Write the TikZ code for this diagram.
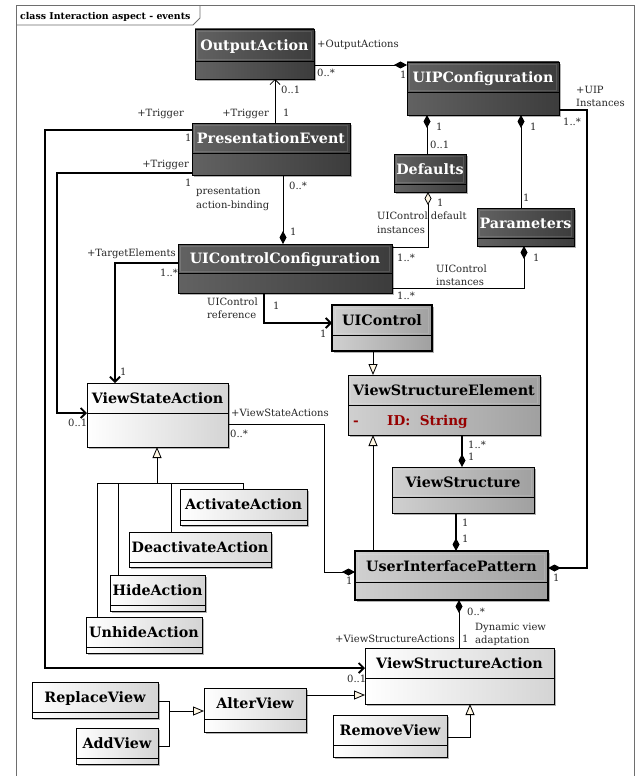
\documentclass[tikz,border=0pt]{standalone}
\usepackage{fontspec}
\setmainfont{DejaVu Serif}
\usetikzlibrary{arrows.meta,shadows}

\definecolor{darkL}{RGB}{98,98,98}
\definecolor{darkR}{RGB}{60,60,60}
\definecolor{greyL}{RGB}{208,208,208}
\definecolor{greyR}{RGB}{160,160,160}
\definecolor{whiteR}{RGB}{212,212,212}
\definecolor{cream}{RGB}{255,247,228}
\definecolor{attrred}{RGB}{150,0,0}
\definecolor{framegrey}{RGB}{110,110,110}

\tikzset{
  clsbox/.style={rectangle, draw=black, line width=0.9pt, inner sep=0pt, outer sep=0pt,
    drop shadow={shadow xshift=2pt, shadow yshift=-2pt, opacity=0.3, fill=black}},
  darkbox/.style={clsbox, left color=darkL, right color=darkR},
  greybox/.style={clsbox, left color=greyL, right color=greyR},
  boldgreybox/.style={greybox, line width=2pt},
  whitebox/.style={clsbox, left color=white, right color=whiteR},
  titlefont/.style={font=\bfseries\fontsize{14.3}{16}\selectfont, inner sep=0pt,
    text height=10.4pt, text depth=0pt},
  darktitle/.style={titlefont, text=white},
  lighttitle/.style={titlefont, text=black},
  glow/.style={draw=white, draw opacity=0.13, line width=0.8pt},
  lbl/.style={font=\fontsize{10}{12}\selectfont, inner sep=0pt, anchor=base west, text=black!85},
  lblr/.style={lbl, anchor=base east},
  assoc/.style={line width=0.8pt},
  strong/.style={line width=1.8pt},
  nav/.tip={Straight Barb[length=5pt, width=10pt]},
  dia/.tip={Diamond[length=13pt, width=7pt]},
  odia/.tip={Diamond[open, fill=cream, length=13pt, width=7pt]},
  gen/.tip={Triangle[open, fill=cream, length=11pt, width=9pt]},
}

% name, box style, title style, x1, y1, x2, y2, divider y, class name
\newcommand\umlclass[9]{%
  \node[#2, anchor=north west, minimum width={(#6)-(#4)}, minimum height={(#7)-(#5)}] (#1) at (#4,#5) {};
  \draw[line width=0.8pt] (#4,#8) -- (#6,#8);
  \node[#3] (#1-name) at ({(#4+#6)/2},{(#5+#8)/2}) {#9};
}
% faint inner highlight of a shaded header: x1, y1, x2, divider y
\newcommand\headerglow[4]{%
  \draw[glow] ({#1+2.5},{#4-2}) rectangle ({#3-2.5},{#2+2.5});
}

\begin{document}
\begin{tikzpicture}[x=1pt,y=-1pt]
\useasboundingbox (0,0) rectangle (641,776);
\fill[white] (0,0) rectangle (641,776);

% diagram frame and its name tab
\draw[framegrey, line width=1pt] (16,790) -- (16,6) -- (634,6) -- (634,790);
\draw[framegrey, line width=0.8pt] (16,25) -- (193,25) -- (200,18) -- (200,6);
\node[font=\bfseries\fontsize{9.4}{11}\selectfont, inner sep=0pt, anchor=base west] (frametitle) at (20,19.5) {class Interaction aspect - events};

% classes
\umlclass{oa}{darkbox}{darktitle}{195}{29}{314}{79}{61}{OutputAction}
\umlclass{uip}{darkbox}{darktitle}{407}{62}{559}{115}{92}{UIPConfiguration}
\umlclass{pe}{darkbox}{darktitle}{192}{123}{350}{175}{153}{PresentationEvent}
\umlclass{defs}{darkbox}{darktitle}{394}{154}{466}{192}{184}{Defaults}
\umlclass{params}{darkbox}{darktitle}{477}{208}{574}{246}{238}{Parameters}
\umlclass{uicc}{darkbox}{darktitle}{178}{244}{392}{293}{273}{UIControlConfiguration}
\umlclass{uictl}{boldgreybox}{lighttitle}{332}{305}{432}{351}{335}{UIControl}
\umlclass{vse}{greybox}{lighttitle}{348}{375}{540}{435}{405}{ViewStructureElement}
\umlclass{vs}{greybox}{lighttitle}{392}{467}{534}{513}{497}{ViewStructure}
\umlclass{uipat}{boldgreybox}{lighttitle}{355}{551}{548}{600}{582}{UserInterfacePattern}
\umlclass{vstate}{whitebox}{lighttitle}{87}{383}{228}{447}{413}{ViewStateAction}
\umlclass{act}{whitebox}{lighttitle}{180}{489}{307}{525}{520}{ActivateAction}
\umlclass{deact}{whitebox}{lighttitle}{129}{532}{271}{567}{562}{DeactivateAction}
\umlclass{hide}{whitebox}{lighttitle}{110}{575}{205}{611}{605}{HideAction}
\umlclass{unhide}{whitebox}{lighttitle}{86}{617}{202}{653}{647}{UnhideAction}
\umlclass{replace}{whitebox}{lighttitle}{32}{682}{158}{718}{712}{ReplaceView}
\umlclass{add}{whitebox}{lighttitle}{76}{728}{158}{764}{758}{AddView}
\umlclass{alter}{whitebox}{lighttitle}{204}{688}{306}{732}{719}{AlterView}
\umlclass{vsaction}{whitebox}{lighttitle}{365}{648}{554}{704}{678}{ViewStructureAction}
\umlclass{remove}{whitebox}{lighttitle}{333}{715}{447}{757}{745}{RemoveView}

% header highlights of the shaded classes
\headerglow{195}{29}{314}{61}
\headerglow{407}{62}{559}{92}
\headerglow{192}{123}{350}{153}
\headerglow{394}{154}{466}{184}
\headerglow{477}{208}{574}{238}
\headerglow{178}{244}{392}{273}
\headerglow{333}{306}{431}{335}
\headerglow{348}{375}{540}{405}
\headerglow{392}{467}{534}{497}
\headerglow{356}{552}{547}{582}

% attribute of ViewStructureElement
\node[font=\bfseries\fontsize{13.6}{15}\selectfont, text=attrred, inner sep=0pt, anchor=base west] (vse-vis) at (353,425) {-};
\node[font=\bfseries\fontsize{13.6}{15}\selectfont, text=attrred, inner sep=0pt, anchor=base west] (vse-attr) at (387,425) {ID:\ \ String};

% associations
\draw[assoc, -nav] (pe.north -| 275,0) -- (oa.south -| 275,0);
\draw[assoc, dia-] (uip.west |- 0,65) -- (oa.east |- 0,65);
\draw[assoc, dia-] (uip.south -| 427,0) -- (defs.north -| 427,0);
\draw[assoc, dia-] (uip.south -| 521,0) -- (params.north -| 521,0);
\draw[strong, -dia] (uip.east |- 0,110) -| (587,568) -- (uipat.east |- 0,568);
\draw[assoc, odia-] (defs.south -| 428,0) |- (uicc.east |- 0,247);
\draw[assoc, dia-] (params.south -| 524,0) |- (uicc.east |- 0,288);
\draw[assoc, -dia] (pe.south -| 283,0) -- (uicc.north -| 283,0);
\draw[strong, -nav] (pe.west |- 0,130) -| (45,668) -- (vsaction.west |- 0,668);
\draw[strong, -nav] (pe.west |- 0,173) -| (57,413) -- (vstate.west |- 0,413);
\draw[strong, -nav] (uicc.west |- 0,263) -| (vstate.north -| 115,0);
\draw[strong, -nav] (uicc.south -| 264,0) |- (uictl.west |- 0,323);
\draw[strong, -dia] (vse.south -| 462,0) -- (vs.north -| 462,0);
\draw[strong, dia-] (uipat.north -| 456,0) -- (vs.south -| 456,0);
\draw[assoc, -dia] (vstate.east |- 0,424) -| (324,572) -- (uipat.west |- 0,572);
\draw[assoc, dia-] (uipat.south -| 459,0) -- (vsaction.north -| 459,0);

% generalizations
\draw[assoc, -gen] (uictl.south -| 373,0) -- (vse.north -| 373,0);
\draw[assoc, -gen] (uipat.north -| 373,0) -- (vse.south -| 373,0);
\coordinate (vstategen) at (157,483);
\draw[assoc] (act.north -| 243,0) |- (vstategen);
\draw[assoc] (deact.north -| 171,0) |- (vstategen);
\draw[assoc] (hide.north -| 118,0) |- (vstategen);
\draw[assoc] (unhide.north -| 97,0) |- (vstategen);
\draw[assoc, -gen] (vstategen) -- (vstate.south -| vstategen);
\coordinate (altergen) at (169,711);
\draw[assoc] (replace.east |- 0,701) -| (altergen);
\draw[assoc] (add.east |- 0,746) -| (altergen);
\draw[assoc, -gen] (altergen) -- (alter.west |- altergen);
\draw[assoc, -gen] (alter.east |- 0,695) -- (vsaction.west |- 0,695);
\draw[assoc, -gen] (remove.east |- 0,737) -| (vsaction.south -| 470,0);

% association end labels
\node[lbl] (l1) at (317,47.5) {+OutputActions};
\node[lbl] (l2) at (317,77) {0..*};
\node[lbl] (l3) at (400,78) {1};
\node[lbl] (l4) at (281,93.5) {0..1};
\node[lblr] (l5) at (269,116.5) {+Trigger};
\node[lbl] (l6) at (283,116.5) {1};
\node[lblr] (l7) at (184,116.5) {+Trigger};
\node[lbl] (l8) at (185,141.5) {1};
\node[lblr] (l9) at (189,167.5) {+Trigger};
\node[lbl] (l10) at (185,186.5) {1};
\node[lbl] (l11) at (196,194.5) {presentation};
\node[lbl] (l12) at (196,208.5) {action-binding};
\node[lbl] (l13) at (289,189) {0..*};
\node[lbl] (l14) at (290,235.5) {1};
\node[lbl] (l15) at (436,130.5) {1};
\node[lbl] (l16) at (430,148.5) {0..1};
\node[lbl] (l17) at (530,130.5) {1};
\node[lbl] (l18) at (523,201) {1};
\node[lbl] (l19) at (576,93.5) {+UIP};
\node[lbl] (l20) at (576,106.5) {Instances};
\node[lbl] (l21) at (563,125.5) {1..*};
\node[lbl] (l22) at (437,206.5) {1};
\node[lbl] (l23) at (377,219.5) {UIControl default};
\node[lbl] (l24) at (377,233.5) {instances};
\node[lbl] (l25) at (397,261.5) {1..*};
\node[lbl] (l26) at (436,272.5) {UIControl};
\node[lbl] (l27) at (436,285.5) {instances};
\node[lbl] (l28) at (533,261.5) {1};
\node[lbl] (l29) at (397,299) {1..*};
\node[lblr] (l30) at (176,256.5) {+TargetElements};
\node[lbl] (l31) at (160,276.5) {1..*};
\node[lbl] (l32) at (120,375.5) {1};
\node[lbl] (l33) at (207,305.5) {UIControl};
\node[lbl] (l34) at (207,318.5) {reference};
\node[lbl] (l35) at (273,309.5) {1};
\node[lbl] (l36) at (320,337.5) {1};
\node[lbl] (l37) at (68,426.5) {0..1};
\node[lbl] (l38) at (231,416.5) {+ViewStateActions};
\node[lbl] (l39) at (230,437) {0..*};
\node[lbl] (l40) at (346,584) {1};
\node[lbl] (l41) at (468,448.5) {1..*};
\node[lbl] (l42) at (468,460.5) {1};
\node[lbl] (l43) at (462,526.5) {1};
\node[lbl] (l44) at (462,542.5) {1};
\node[lbl] (l45) at (553,581.5) {1};
\node[lbl] (l46) at (467,615) {0..*};
\node[lbl] (l47) at (475,630) {Dynamic view};
\node[lbl] (l48) at (475,643.5) {adaptation};
\node[lblr] (l49) at (455,642.5) {+ViewStructureActions};
\node[lbl] (l50) at (462,642.5) {1};
\node[lbl] (l51) at (347,682.5) {0..1};
\end{tikzpicture}
\end{document}
